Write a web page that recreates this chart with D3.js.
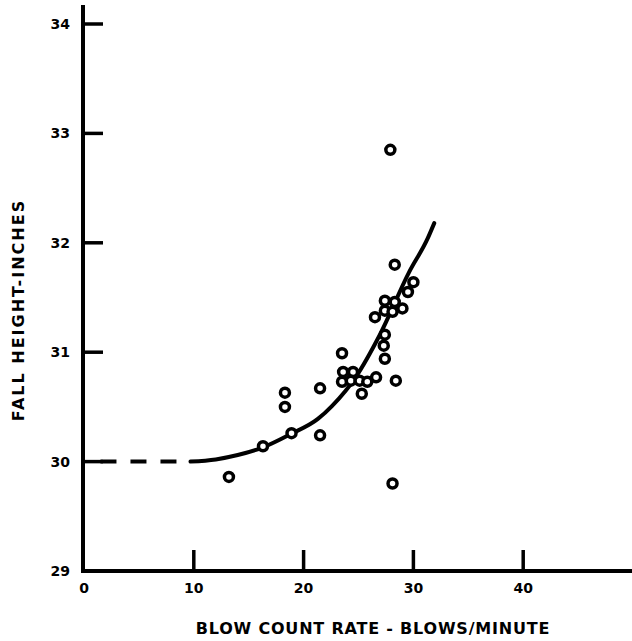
<!DOCTYPE html>
<html><head><meta charset="utf-8">
<script src="https://cdn.jsdelivr.net/npm/d3@7"></script>
<style>html,body{margin:0;padding:0;background:#fff;} svg{display:block;}</style>
</head><body>
<script>
// Observed data points (blow count rate, fall height)
const blowRate = [13.2,16.3,18.9,18.3,18.3,21.5,21.5,28.1,23.5,23.6,24.5,23.5,24.3,25.1,25.8,26.6,25.3,28.4,27.4,27.3,27.4,26.5,27.4,28.1,27.4,28.3,29.0,29.5,30.0,28.3,27.9];
const fallHeight = [29.86,30.14,30.26,30.50,30.63,30.24,30.67,29.80,30.99,30.82,30.82,30.73,30.74,30.74,30.73,30.77,30.62,30.74,30.94,31.06,31.16,31.32,31.38,31.37,31.47,31.46,31.40,31.55,31.64,31.80,32.85];
// Fitted curve
const curveX = [9.7,12,14,16.3,18.8,21.3,22.6,24.8,26.9,29.6,31.3,31.9];
const curveY = [30.0,30.02,30.06,30.13,30.25,30.39,30.51,30.78,31.15,31.73,32.04,32.18];
// Dashed extrapolation
const dashX = [1.5,9.0];
const dashY = [30.0,30.0];
const xTicks = [0,10,20,30,40];
const yTicks = [29,30,31,32,33,34];
const xTitle = "BLOW COUNT RATE - BLOWS/MINUTE";
const yTitle = "FALL HEIGHT-INCHES";

const W = 632, H = 641;
const svg = d3.select("body").append("svg").attr("width", W).attr("height", H);
const x = d3.scaleLinear().domain([0,50]).range([84,633]);
const y = d3.scaleLinear().domain([29,34]).range([571,24]);
const font = "'DejaVu Sans', sans-serif";

// axes lines
svg.append("line").attr("x1",x(0)-1).attr("x2",x(0)-1).attr("y1",5).attr("y2",y(29)+2)
  .attr("stroke","#000").attr("stroke-width",4);
svg.append("line").attr("x1",x(0)-3).attr("x2",W).attr("y1",y(29)).attr("y2",y(29))
  .attr("stroke","#000").attr("stroke-width",4);

// y ticks (pointing right)
svg.selectAll(".yt").data(yTicks.filter(d=>d>29)).enter().append("line")
  .attr("x1",x(0)-1).attr("x2",x(0)+19).attr("y1",d=>y(d)).attr("y2",d=>y(d))
  .attr("stroke","#000").attr("stroke-width",3.5);
svg.selectAll(".yl").data(yTicks).enter().append("text")
  .attr("x",70).attr("y",d=>y(d)+5).attr("text-anchor","end")
  .attr("font-family",font).attr("font-weight","bold").attr("font-size",14)
  .text(d=>d);

// x ticks (pointing up)
svg.selectAll(".xt").data(xTicks.filter(d=>d>0)).enter().append("line")
  .attr("x1",d=>x(d)).attr("x2",d=>x(d)).attr("y1",y(29)).attr("y2",y(29)-21)
  .attr("stroke","#000").attr("stroke-width",3.5);
svg.selectAll(".xl").data(xTicks).enter().append("text")
  .attr("x",d=>x(d)).attr("y",593).attr("text-anchor","middle")
  .attr("font-family",font).attr("font-weight","bold").attr("font-size",14)
  .text(d=>d);

// titles
svg.append("text").attr("x",373).attr("y",634).attr("text-anchor","middle")
  .attr("font-family",font).attr("font-weight","bold").attr("font-size",16)
  .attr("letter-spacing",0.8)
  .text(xTitle);
svg.append("text").attr("transform","translate(24,310) rotate(-90)").attr("text-anchor","middle")
  .attr("font-family",font).attr("font-weight","bold").attr("font-size",16)
  .attr("letter-spacing",2)
  .text(yTitle);

// curve
const line = d3.line().x(d=>x(d[0])).y(d=>y(d[1])).curve(d3.curveMonotoneX);
svg.append("path").datum(curveX.map((v,i)=>[v,curveY[i]])).attr("d",line)
  .attr("fill","none").attr("stroke","#000").attr("stroke-width",4).attr("stroke-linecap","round");
svg.append("path").datum(dashX.map((v,i)=>[v,dashY[i]])).attr("d",d3.line().x(d=>x(d[0])).y(d=>y(d[1])))
  .attr("fill","none").attr("stroke","#000").attr("stroke-width",4).attr("stroke-dasharray","16,14");

// points
svg.selectAll(".pt").data(blowRate.map((v,i)=>[v,fallHeight[i]])).enter().append("circle")
  .attr("cx",d=>x(d[0])).attr("cy",d=>y(d[1])).attr("r",4.5)
  .attr("fill","#fff").attr("stroke","#000").attr("stroke-width",3.5);
</script>
</body></html>
